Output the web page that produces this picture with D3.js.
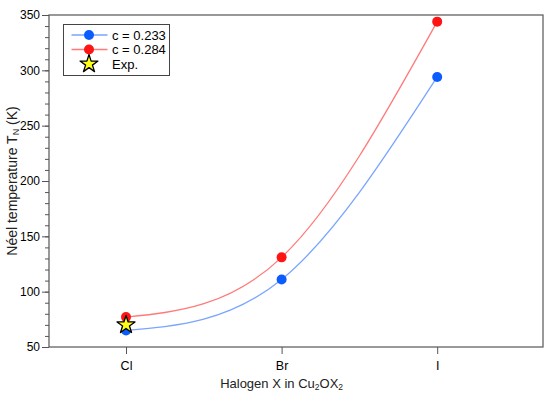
<!DOCTYPE html>
<html>
<head>
<meta charset="utf-8">
<script src="https://cdn.jsdelivr.net/npm/d3@7"></script>
<style>
  body { margin: 0; background: #fff; }
  text { font-family: "Liberation Sans", Arial, sans-serif; }
</style>
</head>
<body>
<svg id="chart" width="550" height="398"></svg>
<script>
// halogen categories and Neel temperatures
const halogens = ["Cl", "Br", "I"];
const tn_c233 = [65, 111, 294];
const tn_c284 = [77, 131, 344];
const expPoint = [0, 70];   // measured value for Cl
const yTicks = [50, 100, 150, 200, 250, 300, 350];

const width = 550, height = 398;
const margin = {top: 15, right: 7, bottom: 51, left: 49};

const svg = d3.select("#chart");

// x is linear over category index so the right pad can be wider than the left
const x = d3.scaleLinear()
    .domain([-0.495, 2.68])
    .range([margin.left, width - margin.right]);

const y = d3.scaleLinear()
    .domain([50, 350])
    .range([height - margin.bottom, margin.top]);

const series = [
    {name: "c = 0.233", values: tn_c233, dot: "#0a5cff", line: "#7aa5ff"},
    {name: "c = 0.284", values: tn_c284, dot: "#ff1414", line: "#ff7a7a"}
];

const line = d3.line()
    .x((d, i) => x(i))
    .y(d => y(d))
    .curve(d3.curveNatural);

// curves first, then dots on top
series.forEach(s => {
    svg.append("path")
        .datum(s.values)
        .attr("d", line)
        .attr("fill", "none")
        .attr("stroke", s.line)
        .attr("stroke-width", 1.3);
});
series.forEach(s => {
    svg.append("g")
        .selectAll("circle")
        .data(s.values)
        .enter()
        .append("circle")
        .attr("cx", (d, i) => x(i))
        .attr("cy", d => y(d))
        .attr("r", 5)
        .attr("fill", s.dot);
});

const star = d3.symbol().type(d3.symbolStar).size(100);
svg.append("path")
    .attr("d", star)
    .attr("transform", `translate(${x(expPoint[0])},${y(expPoint[1])})`)
    .attr("fill", "#ffff1a")
    .attr("stroke", "#000")
    .attr("stroke-width", 1.3)
    .attr("stroke-linejoin", "round");

// frame
svg.append("rect")
    .attr("x", margin.left)
    .attr("y", margin.top)
    .attr("width", width - margin.left - margin.right)
    .attr("height", height - margin.top - margin.bottom)
    .attr("fill", "none")
    .attr("stroke", "#555")
    .attr("stroke-width", 1.2);

// y axis with minor ticks every 10
const yMinor = svg.append("g")
    .attr("transform", `translate(${margin.left},0)`)
    .call(d3.axisLeft(y).tickValues(d3.range(50, 351, 10)).tickSize(4).tickFormat(""));
yMinor.select(".domain").remove();

const yAxis = svg.append("g")
    .attr("transform", `translate(${margin.left},0)`)
    .call(d3.axisLeft(y).tickValues(yTicks).tickSize(7).tickPadding(2));
yAxis.select(".domain").remove();
yAxis.selectAll("text").attr("font-size", 12).attr("fill", "#000");

const xAxis = svg.append("g")
    .attr("transform", `translate(0,${height - margin.bottom})`)
    .call(d3.axisBottom(x).tickValues([0, 1, 2]).tickSize(7).tickPadding(7)
        .tickFormat(i => halogens[i]));
xAxis.select(".domain").remove();
xAxis.selectAll("text").attr("font-size", 12.5).attr("fill", "#000");

svg.selectAll(".tick line").attr("stroke", "#555");

// axis titles
const yt = svg.append("text")
    .attr("transform", `translate(16.5,${(margin.top + height - margin.bottom) / 2}) rotate(-90)`)
    .attr("text-anchor", "middle")
    .attr("font-size", 14)
    .attr("fill", "#222");
yt.append("tspan").text("Néel temperature T");
yt.append("tspan").attr("font-size", 9).attr("dy", 2).text("N");
yt.append("tspan").attr("dy", -2).text(" (K)");

const xt = svg.append("text")
    .attr("x", x(1))
    .attr("y", 388)
    .attr("text-anchor", "middle")
    .attr("font-size", 13)
    .attr("fill", "#222");
xt.append("tspan").text("Halogen X in Cu");
xt.append("tspan").attr("font-size", 8.5).attr("dy", 2).text("2");
xt.append("tspan").attr("dy", -2).text("OX");
xt.append("tspan").attr("font-size", 8.5).attr("dy", 2).text("2");

// legend
const legend = svg.append("g").attr("transform", "translate(63.5,24.5)");
legend.append("rect")
    .attr("width", 106)
    .attr("height", 51)
    .attr("fill", "#fff")
    .attr("stroke", "#444")
    .attr("stroke-width", 1);

series.forEach((s, i) => {
    const row = legend.append("g").attr("transform", `translate(0,${10.5 + i * 14.5})`);
    row.append("line")
        .attr("x1", 8).attr("x2", 44)
        .attr("stroke", s.line).attr("stroke-width", 1.3);
    row.append("circle").attr("cx", 25.5).attr("r", 5).attr("fill", s.dot);
    row.append("text").attr("x", 48.5).attr("dy", "0.35em")
        .attr("font-size", 13).attr("fill", "#000").text(s.name);
});
const expRow = legend.append("g").attr("transform", "translate(0,39.5)");
expRow.append("path")
    .attr("d", star)
    .attr("transform", "translate(25.5,0)")
    .attr("fill", "#ffff1a")
    .attr("stroke", "#000")
    .attr("stroke-width", 1.3)
    .attr("stroke-linejoin", "round");
expRow.append("text").attr("x", 48.5).attr("dy", "0.35em")
    .attr("font-size", 13).attr("fill", "#000").text("Exp.");
</script>
</body>
</html>
